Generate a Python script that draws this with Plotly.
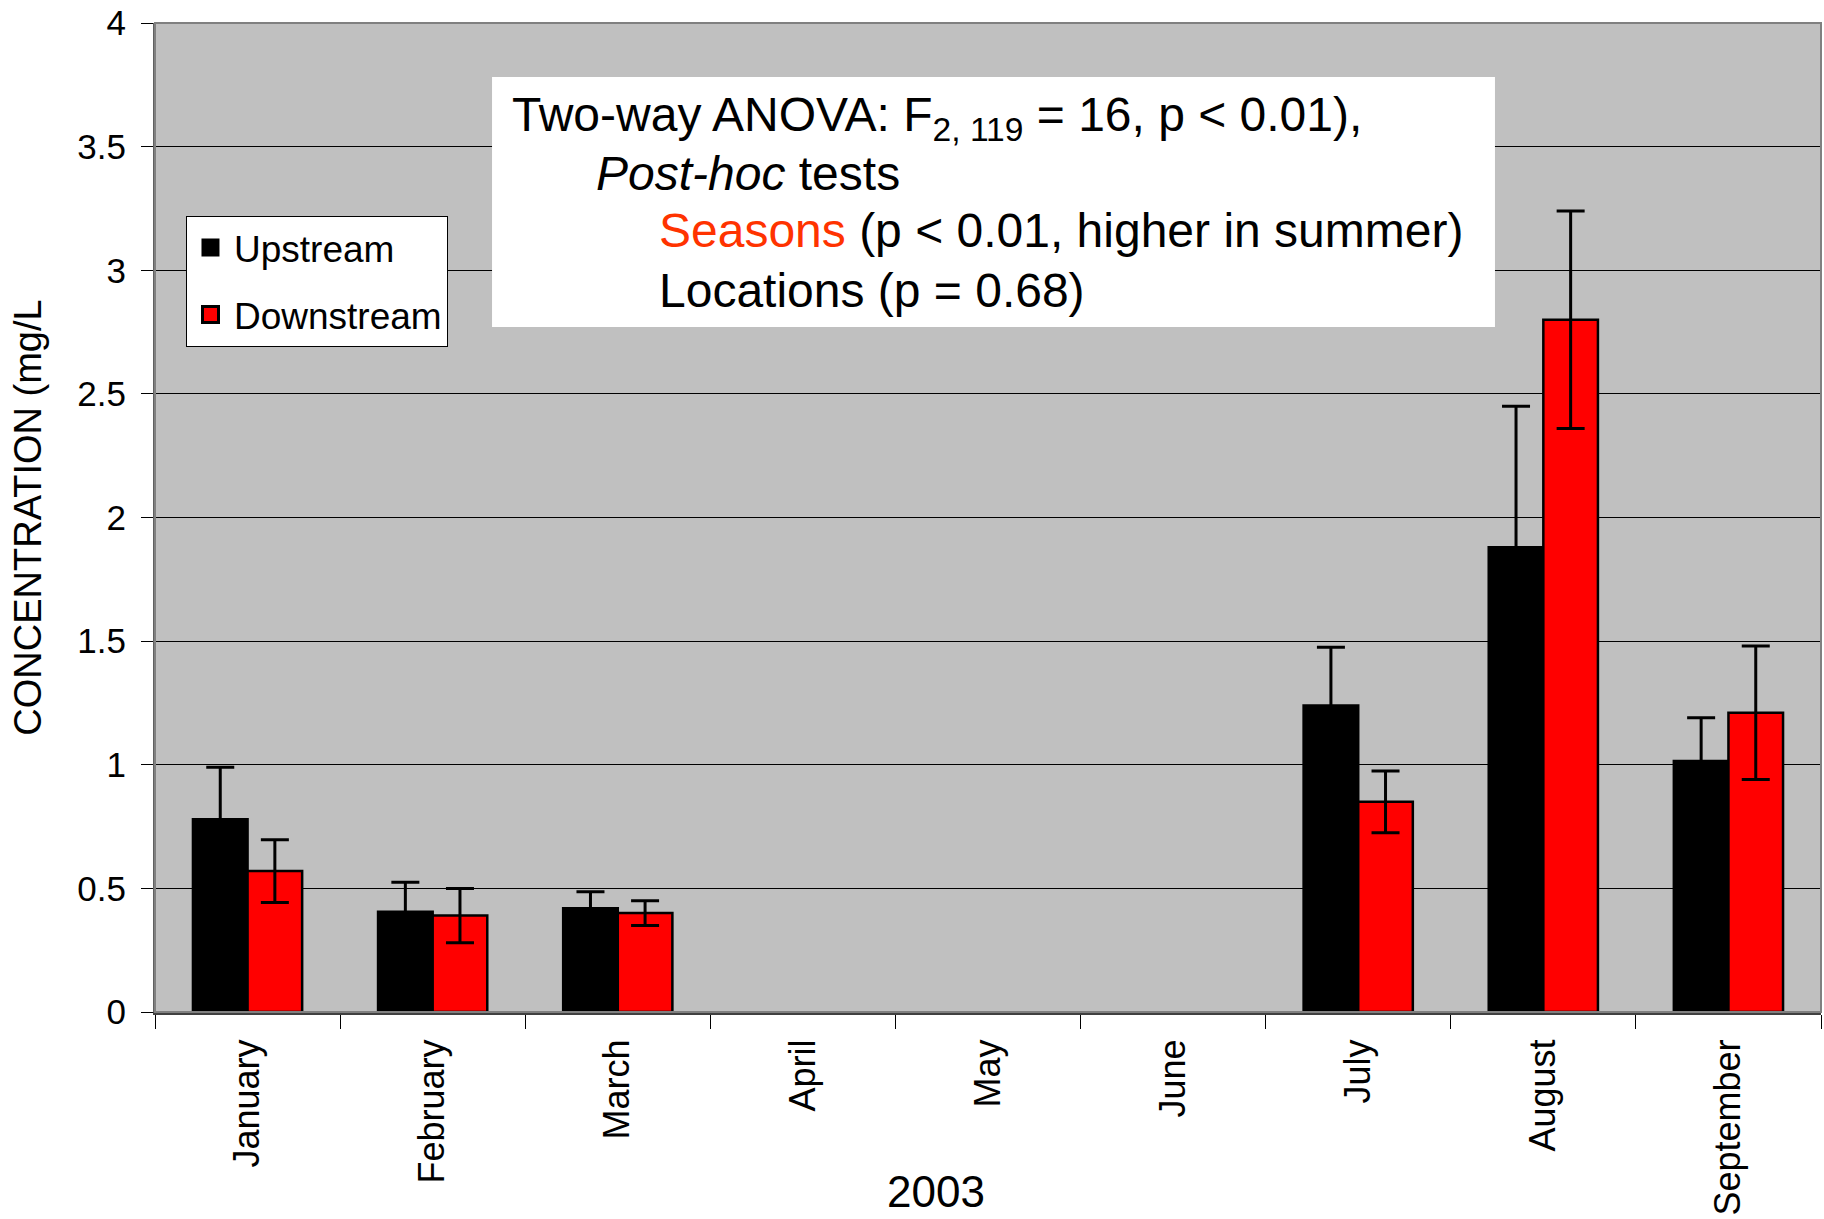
import plotly.graph_objects as go

months = ["January", "February", "March", "April", "May", "June", "July", "August", "September"]
upstream = [0.78, 0.405, 0.42, None, None, None, 1.24, 1.88, 1.015]
upstream_err = [0.21, 0.12, 0.066, None, None, None, 0.235, 0.57, 0.175]
downstream = [0.57, 0.39, 0.40, None, None, None, 0.85, 2.80, 1.21]
downstream_err = [0.127, 0.11, 0.05, None, None, None, 0.125, 0.44, 0.27]
y_ticks = [0, 0.5, 1, 1.5, 2, 2.5, 3, 3.5, 4]
series_names = ["Upstream", "Downstream"]

FONT = "Arial, Liberation Sans, sans-serif"

fig = go.Figure()
fig.add_trace(go.Bar(
    x=months, y=upstream, name=series_names[0], showlegend=False,
    marker=dict(color="#000000", line=dict(color="#000000", width=2.5)),
    error_y=dict(type="data", array=upstream_err, visible=True, color="#000000", thickness=3, width=14),
))
fig.add_trace(go.Bar(
    x=months, y=downstream, name=series_names[1], showlegend=False,
    marker=dict(color="#FF0000", line=dict(color="#000000", width=2.5)),
    error_y=dict(type="data", array=downstream_err, visible=True, color="#000000", thickness=3, width=14),
))
# legend entries with larger square keys
fig.add_trace(go.Scatter(
    x=[None], y=[None], mode="markers", name=series_names[0], legendgroup="u",
    marker=dict(symbol="square", size=21, color="#000000", line=dict(color="#000000", width=2)),
))
fig.add_trace(go.Scatter(
    x=[None], y=[None], mode="markers", name=series_names[1], legendgroup="d",
    marker=dict(symbol="square", size=19, color="#FF0000", line=dict(color="#000000", width=3)),
))

L, R, T, B = 155, 3, 23, 207
W, H = 1824, 1219

fig.update_layout(
    width=W, height=H,
    margin=dict(l=L, r=R, t=T, b=B),
    paper_bgcolor="white",
    plot_bgcolor="#C0C0C0",
    barmode="group", bargap=0.41, bargroupgap=0,
    font=dict(family=FONT, color="black"),
    showlegend=True,
    legend=dict(
        x=0.0186, y=0.805, xanchor="left", yanchor="top",
        bgcolor="white", bordercolor="#000000", borderwidth=1,
        font=dict(family=FONT, size=37, color="black"),
        traceorder="grouped", tracegroupgap=16,
        itemwidth=37,
    ),
)

fig.update_xaxes(
    type="category", categoryorder="array", categoryarray=months,
    tickangle=-90, tickfont=dict(family=FONT, size=36, color="black"),
    ticks="outside", ticklen=14, tickwidth=1, tickcolor="#000000",
    tickson="boundaries", ticklabelstandoff=10,
    showline=True, linecolor="#404040", linewidth=3,
    showgrid=False, zeroline=False,
)
fig.update_yaxes(
    range=[0, 4], tickvals=y_ticks, ticktext=[f"{v:g}" for v in y_ticks],
    tickfont=dict(family=FONT, size=35, color="black"),
    ticks="outside", ticklen=12, tickwidth=1, tickcolor="#000000",
    ticklabelstandoff=8,
    showline=True, linecolor="#606060", linewidth=2,
    showgrid=True, gridcolor="#000000", gridwidth=1, zeroline=False,
    title=dict(text="CONCENTRATION (mg/L", font=dict(family=FONT, size=38, color="black"), standoff=24),
)

# plot area border (top / right)
fig.add_shape(type="rect", xref="paper", yref="paper", x0=0, x1=1, y0=0, y1=1,
              line=dict(color="#808080", width=2), layer="above")

# statistics box
fig.add_shape(type="rect", xref="paper", yref="paper", x0=0.2023, x1=0.8043, y0=0.6926, y1=0.9454,
              fillcolor="white", line=dict(width=0), layer="above")

stat_lines = [
    ("Two-way ANOVA: F<sub>2, 119</sub> = 16, p < 0.01),", 0.2133, 0.904),
    ("<i>Post-hoc</i> tests", 0.2635, 0.848),
    ("<span style='color:#FF3300'>Seasons</span> (p < 0.01, higher in summer)", 0.3015, 0.790),
    ("Locations (p = 0.68)", 0.3015, 0.730),
]
for txt, xx, yy in stat_lines:
    fig.add_annotation(text=txt, xref="paper", yref="paper", x=xx, y=yy,
                       xanchor="left", yanchor="middle", showarrow=False,
                       font=dict(family=FONT, size=48, color="black"))

# x-axis title
fig.add_annotation(text="2003", xref="paper", yref="paper",
                   x=(936 - L) / (W - L - R), y=-(1191 - (H - B)) / (H - T - B),
                   xanchor="center", yanchor="middle", showarrow=False,
                   font=dict(family=FONT, size=44, color="black"))

fig.write_html("out.html")
